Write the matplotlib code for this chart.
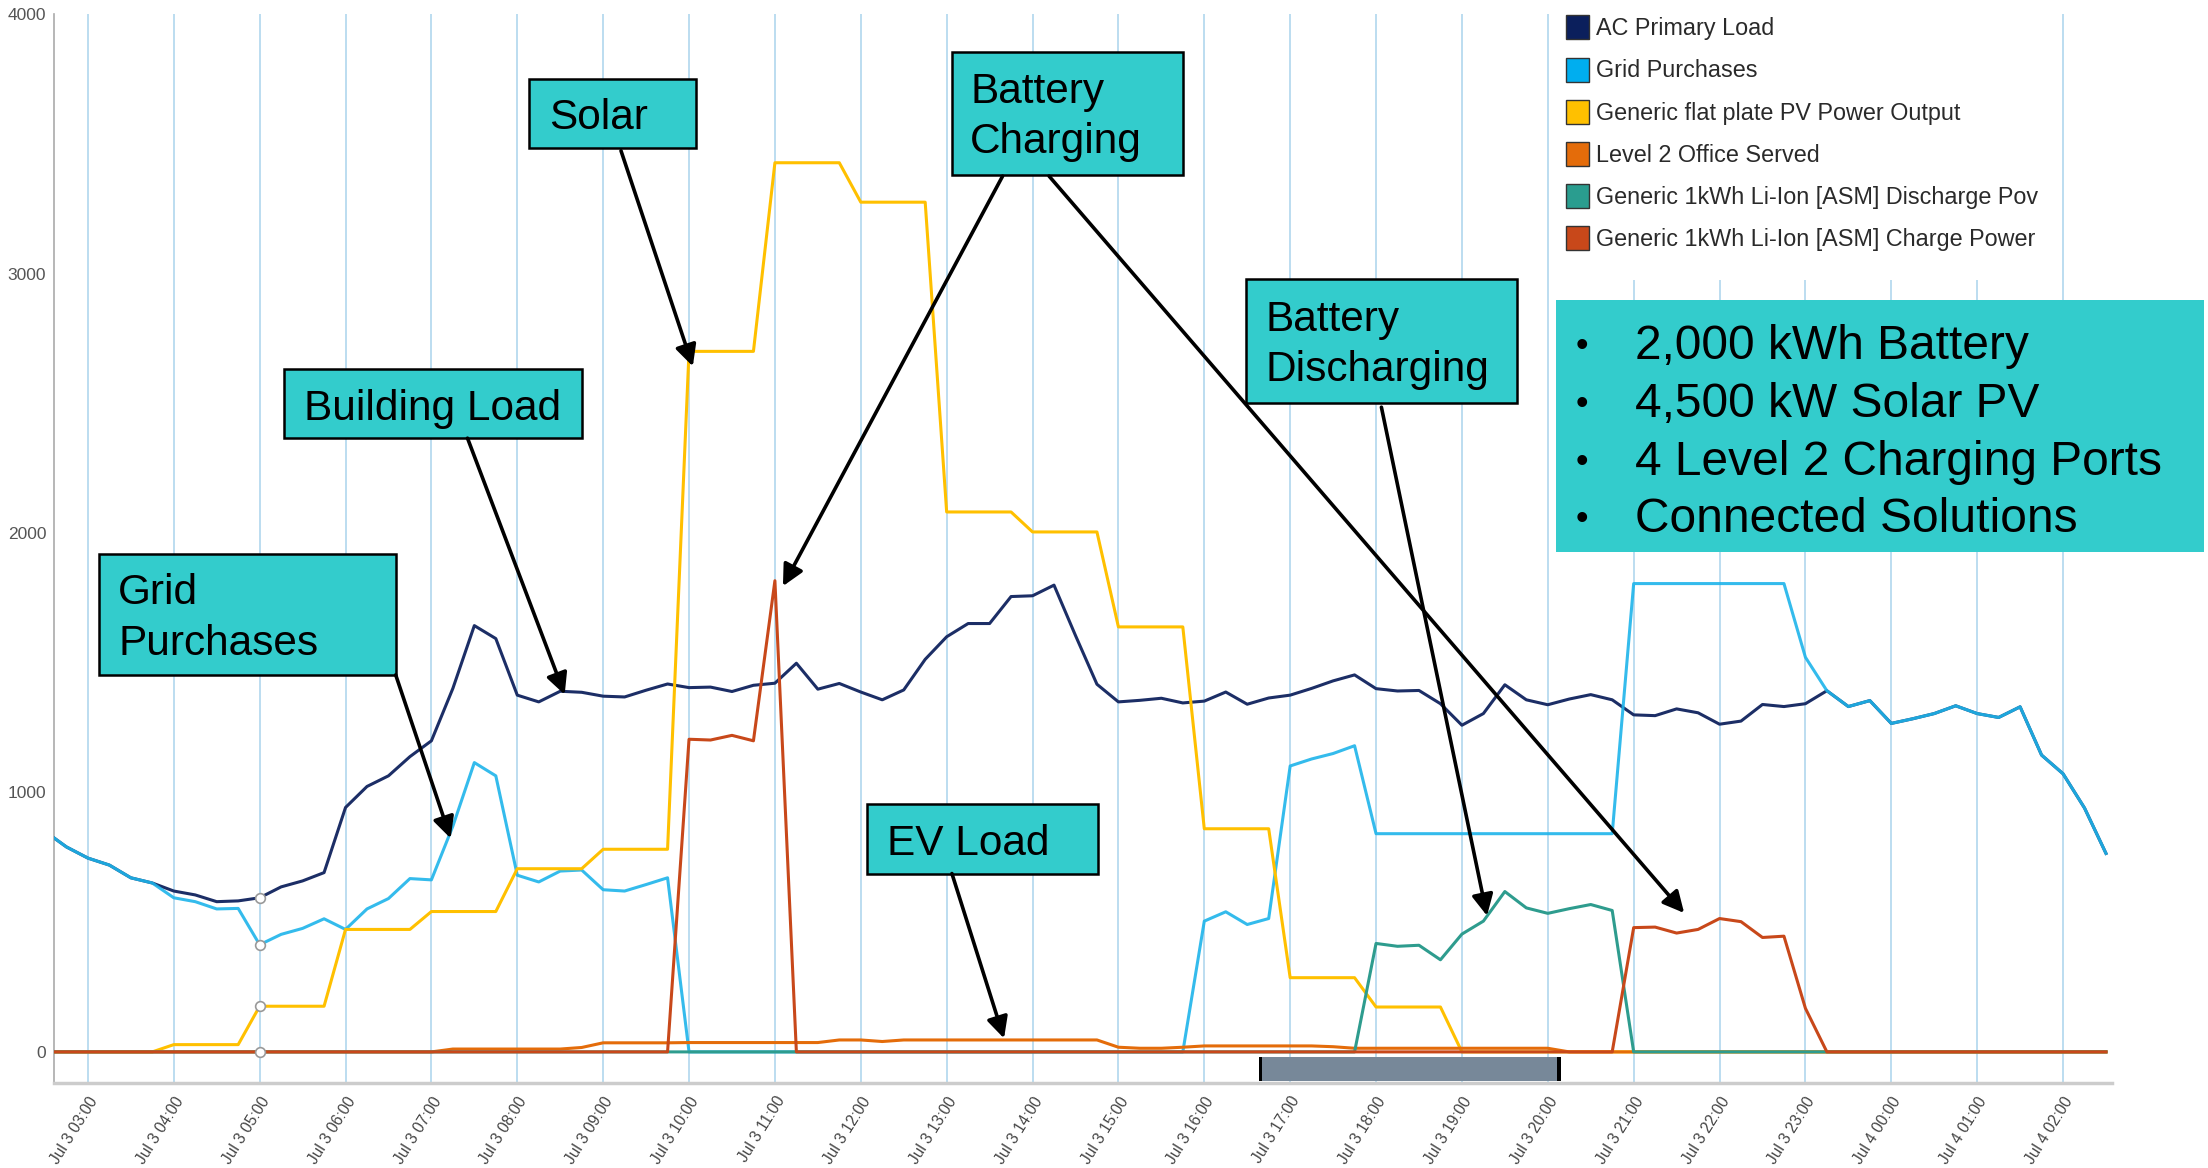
import matplotlib
matplotlib.use("Agg")
import matplotlib.pyplot as plt
from matplotlib.patches import Rectangle, Patch, FancyArrowPatch
from matplotlib import font_manager
import numpy as np

# hours since Jul 3 00:00, 15 minute steps
times = list(np.arange(2.5, 26.51, 0.25))

load = [850, 790,
        747, 720, 671, 651,  620, 605, 579, 582,  594, 636, 659, 691,
        942, 1023, 1064, 1138,  1199, 1401, 1643, 1593,  1375, 1349, 1390, 1386,
        1371, 1368, 1394, 1418,  1404, 1406, 1389, 1413,  1421, 1498, 1398, 1420,
        1387, 1357, 1395, 1513,  1600, 1651, 1651, 1755,  1758, 1799, 1605, 1417,
        1349, 1355, 1363, 1345,  1352, 1387, 1340, 1364,  1375, 1401, 1430, 1453,
        1400, 1391, 1393, 1342,  1259, 1304, 1415, 1357,  1338, 1360, 1377, 1357,
        1299, 1296, 1322, 1307,  1263, 1275, 1339, 1331,  1342, 1392, 1331, 1354,
        1266, 1284, 1304, 1334,  1304, 1289, 1330, 1144,
        1072, 940, 765]

grid = [850, 790,
        747, 720, 671, 651,  594, 579, 551, 553,  413, 453, 476, 513,
        472, 551, 591, 668,  663, 870, 1115, 1064,  681, 655, 697, 701,
        625, 620, 645, 671,  0, 0, 0, 0,  0, 0, 0, 0,
        0, 0, 0, 0,  0, 0, 0, 0,  0, 0, 0, 0,
        0, 0, 0, 0,  504, 540, 491, 514,  1102, 1129, 1150, 1180,
        841, 841, 841, 841,  841, 841, 841, 841,  841, 841, 841, 841,
        1805, 1805, 1805, 1805,  1805, 1805, 1805, 1805,  1521, 1392, 1331, 1354,
        1266, 1284, 1304, 1334,  1304, 1289, 1330, 1144,
        1072, 940, 765]

pv = [0, 0,
      0, 0, 0, 0,  28, 28, 28, 28,  176, 176, 176, 176,
      472, 472, 472, 472,  541, 541, 541, 541,  706, 706, 706, 706,
      781, 781, 781, 781,  2700, 2700, 2700, 2700,  3427, 3427, 3427, 3427,
      3275, 3275, 3275, 3275,  2081, 2081, 2081, 2081,  2004, 2004, 2004, 2004,
      1638, 1638, 1638, 1638,  860, 860, 860, 860,  286, 286, 286, 286,
      173, 173, 173, 173,  0, 0, 0, 0,  0, 0, 0, 0,
      0, 0, 0, 0,  0, 0, 0, 0,  0, 0, 0, 0,
      0, 0, 0, 0,  0, 0, 0, 0,
      0, 0, 0]

ev = [0, 0,
      0, 0, 0, 0,  0, 0, 0, 0,  0, 0, 0, 0,
      0, 0, 0, 0,  0, 11, 11, 11,  11, 11, 11, 17,
      35, 35, 35, 35,  36, 36, 36, 36,  36, 36, 36, 46,
      46, 40, 46, 46,  46, 46, 46, 46,  46, 46, 46, 46,
      18, 14, 14, 18,  23, 23, 23, 23,  23, 23, 20, 14,
      14, 14, 14, 14,  14, 14, 14, 14,  14, 0, 0, 0,
      0, 0, 0, 0,  0, 0, 0, 0,  0, 0, 0, 0,
      0, 0, 0, 0,  0, 0, 0, 0,
      0, 0, 0]

discharge = [0, 0,
             0, 0, 0, 0,  0, 0, 0, 0,  0, 0, 0, 0,
             0, 0, 0, 0,  0, 0, 0, 0,  0, 0, 0, 0,
             0, 0, 0, 0,  0, 0, 0, 0,  0, 0, 0, 0,
             0, 0, 0, 0,  0, 0, 0, 0,  0, 0, 0, 0,
             0, 0, 0, 0,  0, 0, 0, 0,  0, 0, 0, 0,
             418, 407, 411, 355,  454, 504, 618, 555,  534, 552, 568, 545,
             0, 0, 0, 0,  0, 0, 0, 0,  0, 0, 0, 0,
             0, 0, 0, 0,  0, 0, 0, 0,
             0, 0, 0]

charge = [0, 0,
          0, 0, 0, 0,  0, 0, 0, 0,  0, 0, 0, 0,
          0, 0, 0, 0,  0, 0, 0, 0,  0, 0, 0, 0,
          0, 0, 0, 0,  1205, 1202, 1220, 1199,  1816, 0, 0, 0,
          0, 0, 0, 0,  0, 0, 0, 0,  0, 0, 0, 0,
          0, 0, 0, 0,  0, 0, 0, 0,  0, 0, 0, 0,
          0, 0, 0, 0,  0, 0, 0, 0,  0, 0, 0, 0,
          479, 481, 458, 472,  514, 502, 441, 446,  168, 0, 0, 0,
          0, 0, 0, 0,  0, 0, 0, 0,
          0, 0, 0]

series_names = ["AC Primary Load", "Grid Purchases", "Generic flat plate PV Power Output",
                "Level 2 Office Served", "Generic 1kWh Li-Ion [ASM] Discharge Pov",
                "Generic 1kWh Li-Ion [ASM] Charge Power"]
line_colors = ["#1C2E66", "#1EB4EA", "#FFC000", "#E46C0A", "#2E9C8E", "#C8481A"]
patch_colors = ["#0B1F5C", "#00AEEF", "#FFC000", "#E46C0A", "#2A9D8F", "#C8481A"]

tick_hours = list(range(3, 27))
tick_labels = ["Jul 3 %02d:00" % h for h in range(3, 24)] + ["Jul 4 %02d:00" % h for h in range(0, 3)]
y_ticks = [0, 1000, 2000, 3000, 4000]

installed = {f.name for f in font_manager.fontManager.ttflist}
narrow = "Liberation Sans Narrow" if "Liberation Sans Narrow" in installed else "Liberation Sans"
arial = "Liberation Sans"

W, H = 1568.0, 829.0


def fxy(x, y):
    return x / W, 1 - y / H


fig = plt.figure(figsize=(22.08, 11.68), dpi=100)
ax = fig.add_axes([0.02468, 0.07286, 0.93184, 0.91509])

all_series = [load, grid, pv, ev, discharge, charge]
for vals, col in zip(all_series, line_colors):
    alpha = 0.9 if col == "#1EB4EA" else 1.0
    ax.plot(times, vals, color=col, lw=2.2, alpha=alpha, zorder=3, solid_joinstyle="round")

# hover markers at 05:00
i5 = times.index(5.0)
for vals in [load, grid, pv, ev]:
    ax.plot(times[i5], vals[i5], "o", ms=7, mfc="white", mec="#999999", mew=1.2, zorder=4)

ax.set_xlim(2.611, 26.57)
ax.set_ylim(-119.5, 4000)
for h in tick_hours:
    ax.axvline(h, color="#A9D3EC", lw=1.1, zorder=1)

ax.set_xticks(tick_hours)
ax.set_xticklabels(tick_labels, rotation=58, ha="right", va="top", rotation_mode="anchor",
                   fontsize=11.2, color="#444444", family=narrow)
ax.set_yticks(y_ticks)
ax.set_yticklabels([str(v) for v in y_ticks], fontsize=12.5, color="#555555", family=narrow)
ax.tick_params(axis="both", length=0)
ax.tick_params(axis="y", pad=6)
ax.tick_params(axis="x", pad=8)
for s in ["top", "right"]:
    ax.spines[s].set_visible(False)
ax.spines["left"].set_color("#AAAAAA")
ax.spines["left"].set_linewidth(1.2)
ax.spines["bottom"].set_color("#CCCCCC")
ax.spines["bottom"].set_linewidth(2.5)

# range selector bar
x0, y0 = fxy(895, 767)
x1, y1 = fxy(1107, 750)
fig.add_artist(Rectangle((x0, y0), x1 - x0, y1 - y0, transform=fig.transFigure,
                         fc="#778899", ec="none", zorder=2))
for xx in (x0, x1):
    fig.add_artist(Rectangle((xx - 0.0008, y0), 0.0016, y1 - y0, transform=fig.transFigure,
                             fc="black", ec="none", zorder=2))

# white legend background
lx0, ly0 = fxy(1105, 199)
lx1, ly1 = fxy(1461, 0)
fig.add_artist(Rectangle((lx0, ly0), lx1 - lx0, ly1 - ly0, transform=fig.transFigure,
                         fc="white", ec="none", zorder=1))
handles = [Patch(facecolor=c, edgecolor="#333333", lw=1) for c in patch_colors]
leg = fig.legend(handles, series_names, loc="upper left", bbox_to_anchor=fxy(1112, 11),
                 frameon=False, labelspacing=0.74, handlelength=1.0,
                 handleheight=1.2, handletextpad=0.3, borderpad=0, borderaxespad=0,
                 prop={"family": narrow, "size": 16.8})
for t in leg.get_texts():
    t.set_color("#2A2A2A")
leg.set_zorder(3)


def label_box(box, text, tx, ty):
    bx0, by0 = fxy(box[0], box[3])
    bx1, by1 = fxy(box[2], box[1])
    fig.add_artist(Rectangle((bx0, by0), bx1 - bx0, by1 - by0, transform=fig.transFigure,
                             fc="#33CCCC", ec="black", lw=1.8, zorder=5))
    px, py = fxy(tx, ty)
    fig.text(px, py, text, fontsize=30.5, family=arial, ha="left", va="center",
             linespacing=1.33, zorder=6)


def arrow(tail, head):
    fig.add_artist(FancyArrowPatch(fxy(*tail), fxy(*head), transform=fig.transFigure,
                                   arrowstyle="-|>", mutation_scale=32, color="black",
                                   lw=2.6, shrinkA=0, shrinkB=0, zorder=7))


label_box((376, 56, 494, 105), "Solar", 390, 84)
arrow((441, 107), (492, 260))

label_box((676, 37, 840, 124), "Battery\nCharging", 689, 83)
arrow((712, 125), (556, 416))
arrow((745, 125), (1196, 648))

label_box((202, 262, 413, 311), "Building Load", 216, 290)
arrow((332, 311), (401, 493))

label_box((70, 393, 281, 479), "Grid\nPurchases", 84, 439)
arrow((281, 479), (320, 595))

label_box((616, 571, 780, 620), "EV Load", 630, 599)
arrow((676, 620), (713, 737))

label_box((885, 198, 1077, 286), "Battery\nDischarging", 899, 245)
arrow((981, 289), (1056, 650))

# info box
ix0, iy0 = fxy(1105, 392)
ix1, iy1 = fxy(1565, 213)
fig.add_artist(Rectangle((ix0, iy0), ix1 - ix0, iy1 - iy0, transform=fig.transFigure,
                         fc="#33CCCC", ec="none", zorder=5))
info_lines = ["2,000 kWh Battery", "4,500 kW Solar PV", "4 Level 2 Charging Ports", "Connected Solutions"]
for k, line in enumerate(info_lines):
    yy = 246 + 41 * k
    fig.text(*fxy(1119, yy), "\u2022", fontsize=26, family=arial, ha="left", va="center", zorder=6)
    fig.text(*fxy(1161, yy), line, fontsize=34.5, family=arial, ha="left", va="center", zorder=6)

fig.savefig("out.png", dpi=100, facecolor="white")
